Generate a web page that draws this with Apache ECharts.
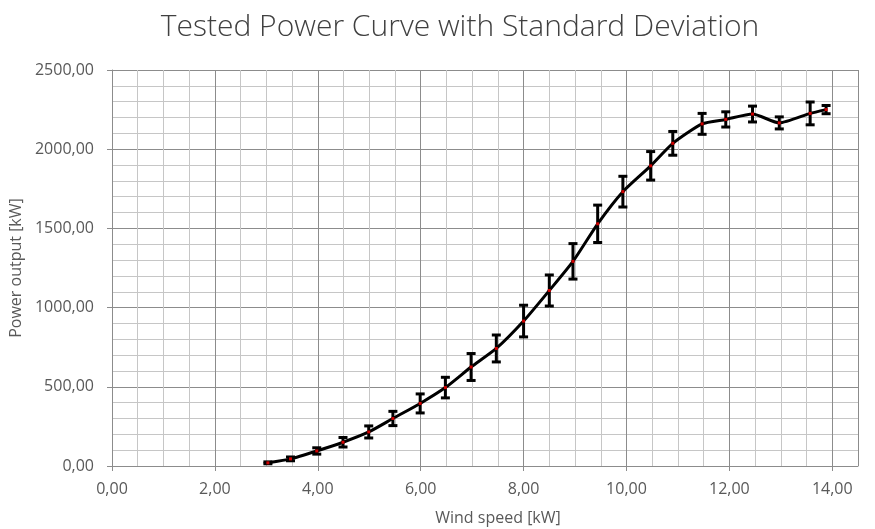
<!DOCTYPE html>
<html><head><meta charset="utf-8">
<script src="https://cdn.jsdelivr.net/npm/echarts@6/dist/echarts.min.js"></script>
<style>html,body{margin:0;padding:0;background:#fff}#c{width:875px;height:529px}</style>
</head><body><div id="c"></div>
<script>
const windSpeed = [3.03, 3.47, 3.98, 4.49, 4.99, 5.46, 5.99, 6.48, 6.98, 7.47, 8.0, 8.5, 8.96, 9.44, 9.93, 10.47, 10.9, 11.47, 11.93, 12.45, 12.97, 13.57, 13.88];
const power = [20, 45, 95, 150, 215, 300, 395, 495, 625, 742, 915, 1108, 1292, 1529, 1732, 1895, 2037, 2160, 2188, 2222, 2166, 2226, 2250];
const stdDev = [6, 12, 20, 30, 38, 45, 60, 65, 85, 85, 100, 98, 112, 118, 97, 90, 75, 66, 48, 50, 38, 72, 26];
const xTicks = ['0,00','2,00','4,00','6,00','8,00','10,00','12,00','14,00'];
const yTicks = ['0,00','500,00','1000,00','1500,00','2000,00','2500,00'];

const pts = windSpeed.map((x, i) => [x, power[i]]);
const errs = windSpeed.map((x, i) => [x, power[i] - stdDev[i], power[i] + stdDev[i]]);
const fmt = v => v.toFixed(2).replace('.', ',');
const labelStyle = {color: '#595959', fontFamily: 'Open Sans', fontSize: 16};
const chart = echarts.init(document.getElementById('c'));
chart.setOption({
  animation: false,
  title: {text: 'Tested Power Curve with Standard Deviation', left: 455, textAlign: 'center', top: 7,
    textStyle: {fontFamily: 'Open Sans', fontWeight: 300, fontSize: 30, color: '#404040'}},
  grid: {left: 112, right: 17, top: 70, bottom: 63, outerBoundsMode: 'none', containLabel: false},
  xAxis: [
    {type: 'value', min: 0, max: 14.5, interval: 0.5, axisLine: {show: false}, axisTick: {show: false},
     axisLabel: {show: false}, splitLine: {lineStyle: {color: '#c6c6c6', width: 1}}},
    {type: 'value', min: 0, max: 14.5, interval: 2, position: 'bottom',
     axisLine: {show: true, onZero: false, lineStyle: {color: '#8c8c8c'}},
     axisTick: {show: true, length: 5, lineStyle: {color: '#8c8c8c'}},
     axisLabel: Object.assign({margin: 15, showMaxLabel: false, formatter: v => (v % 2 === 0 && xTicks.indexOf(fmt(v)) >= 0) ? fmt(v) : ''}, labelStyle),
     splitLine: {lineStyle: {color: '#8c8c8c', width: 1}},
     name: 'Wind speed [kW]', nameLocation: 'middle', nameGap: 44,
     nameTextStyle: {color: '#595959', fontFamily: 'Open Sans', fontSize: 16, padding: [0, 0, 0, 26]}}
  ],
  yAxis: [
    {type: 'value', min: 0, max: 2500, interval: 100, position: 'left', axisLine: {show: false}, axisTick: {show: false},
     axisLabel: {show: false}, splitLine: {lineStyle: {color: '#c6c6c6', width: 1}}},
    {type: 'value', min: 0, max: 2500, interval: 500, position: 'left', offset: 0,
     axisLine: {show: true, lineStyle: {color: '#8c8c8c'}},
     axisTick: {show: true, length: 5, lineStyle: {color: '#8c8c8c'}},
     axisLabel: Object.assign({margin: 18, formatter: v => yTicks[v / 500]}, labelStyle),
     splitLine: {lineStyle: {color: '#8c8c8c', width: 1}},
     name: 'Power output [kW]', nameLocation: 'middle', nameGap: 86, nameRotate: 90,
     nameTextStyle: {color: '#595959', fontFamily: 'Open Sans', fontSize: 16}}
  ],
  series: [
    {type: 'custom', xAxisIndex: 1, yAxisIndex: 1, data: errs, z: 3,
     renderItem: (params, api) => {
       const x = api.value(0);
       const lo = api.coord([x, api.value(1)]);
       const hi = api.coord([x, api.value(2)]);
       const w = 4.5;
       const st = {stroke: '#000', lineWidth: 3};
       return {type: 'group', children: [
         {type: 'line', shape: {x1: lo[0], y1: lo[1], x2: hi[0], y2: hi[1]}, style: st},
         {type: 'line', shape: {x1: lo[0] - w, y1: lo[1], x2: lo[0] + w, y2: lo[1]}, style: st},
         {type: 'line', shape: {x1: hi[0] - w, y1: hi[1], x2: hi[0] + w, y2: hi[1]}, style: st}
       ]};
     }},
    {type: 'line', xAxisIndex: 1, yAxisIndex: 1, data: pts, smooth: 0.2, z: 4,
     lineStyle: {color: '#000', width: 3},
     symbol: 'rect', symbolSize: 3, showAllSymbol: true,
     itemStyle: {color: '#d00000'}}
  ]
});
</script></body></html>
